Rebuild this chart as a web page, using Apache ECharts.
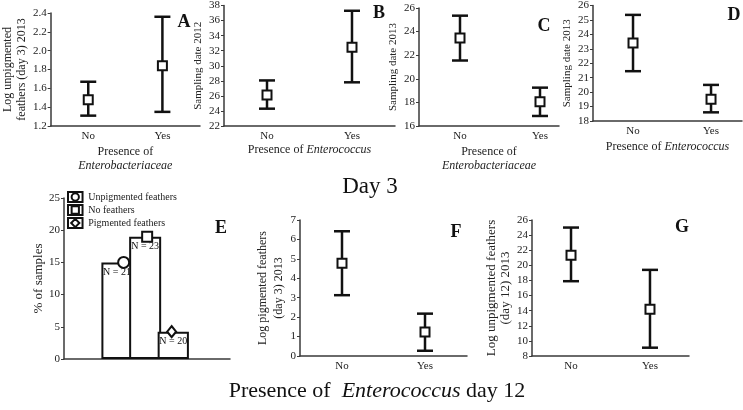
<!DOCTYPE html>
<html>
<head>
<meta charset="utf-8">
<script src="https://cdn.jsdelivr.net/npm/echarts@6/dist/echarts.min.js"></script>
<style>html,body{margin:0;padding:0;background:#fff}#c{width:743px;height:410px}</style>
</head>
<body>
<div id="c"></div>
<script>
// ---------- data ----------
const catLabels = ['No', 'Yes'];
const aMean = [1.48, 1.84], aLow = [1.31, 1.35], aHigh = [1.67, 2.36];
const bMean = [26.1, 32.45], bLow = [24.3, 27.8], bHigh = [28.05, 37.3];
const cMean = [23.45, 18.05], cLow = [21.55, 16.85], cHigh = [25.35, 19.25];
const dMean = [23.4, 19.5], dLow = [21.45, 18.6], dHigh = [25.35, 20.5];
const fMean = [4.78, 1.24], fLow = [3.13, 0.27], fHigh = [6.42, 2.18];
const gMean = [21.35, 14.2], gLow = [17.9, 9.1], gHigh = [25.0, 19.4];
const eGroups = ['Unpigmented feathers', 'No feathers', 'Pigmented feathers'];
const ePercent = [15, 19, 4.25];
const eN = [21, 23, 20];

// ---------- styling ----------
const FONT = '"Liberation Serif", "Times New Roman", serif';
const INK = '#111';
const AX = '#3a3a3a';
const grids = [], xAxes = [], yAxes = [], series = [];

function errRender(params, api) {
  const x = api.value(0);
  const lo = api.coord([x, api.value(1)]);
  const hi = api.coord([x, api.value(2)]);
  const cap = 8;
  const st = {stroke: INK, lineWidth: 2.5};
  return {type: 'group', children: [
    {type: 'line', shape: {x1: lo[0], y1: lo[1], x2: hi[0], y2: hi[1]}, style: st},
    {type: 'line', shape: {x1: lo[0] - cap, y1: lo[1], x2: lo[0] + cap, y2: lo[1]}, style: st},
    {type: 'line', shape: {x1: hi[0] - cap, y1: hi[1], x2: hi[0] + cap, y2: hi[1]}, style: st}
  ]};
}

function nameStyle(size, lh) {
  return {fontFamily: FONT, fontSize: size, color: '#222', lineHeight: lh,
    rich: {i: {fontFamily: FONT, fontSize: size, fontStyle: 'italic', color: '#222', lineHeight: lh}}};
}

function addPanel(p) {
  const gi = grids.length;
  grids.push({left: p.left, top: p.top, width: p.width, height: p.height});
  xAxes.push({
    gridIndex: gi, type: 'value', min: p.xMin, max: p.xMax,
    splitLine: {show: false},
    axisLine: {show: true, onZero: false, lineStyle: {color: AX, width: 1.5}},
    axisTick: {show: false},
    axisLabel: {customValues: [0, 1], formatter: v => catLabels[Math.round(v)],
      fontFamily: FONT, fontSize: 11, color: '#222', margin: 5},
    name: p.xName, nameLocation: 'middle', nameGap: p.xGap,
    nameTextStyle: nameStyle(12, 14)
  });
  yAxes.push({
    gridIndex: gi, type: 'value', min: p.yMin, max: p.yMax, interval: p.interval,
    splitLine: {show: false},
    axisLine: {show: true, onZero: false, lineStyle: {color: AX, width: 1.5}},
    axisTick: {show: true, length: 3, lineStyle: {color: AX}},
    axisLabel: {fontFamily: FONT, fontSize: 11, color: '#222', margin: 4,
      formatter: p.fmt || (v => String(v))},
    name: p.yName, nameLocation: 'middle', nameGap: p.yGap,
    nameTextStyle: nameStyle(p.yFont, p.yLH)
  });
  series.push({type: 'custom', xAxisIndex: gi, yAxisIndex: gi, renderItem: errRender,
    data: p.low.map((lo, i) => [i, lo, p.high[i]]), z: 2, silent: true});
  series.push({type: 'scatter', xAxisIndex: gi, yAxisIndex: gi, symbol: 'rect', symbolSize: 9,
    data: p.mean.map((m, i) => [i, m]),
    itemStyle: {color: '#fff', borderColor: INK, borderWidth: 2, opacity: 1}, z: 3});
}

const entero = 'Presence of {i|Enterococcus}';
const enteroB = 'Presence of\n{i|Enterobacteriaceae}';

addPanel({left: 49, top: 13, width: 151, height: 113, xMin: -0.507, xMax: 1.507,
  yMin: 1.2, yMax: 2.4, interval: 0.2, fmt: v => v.toFixed(1),
  yName: 'Log unpigmented\nfeathers (day 3) 2013', yGap: 18, yFont: 12, yLH: 14,
  xName: enteroB, xGap: 19, mean: aMean, low: aLow, high: aHigh});
addPanel({left: 224, top: 5, width: 171, height: 121, xMin: -0.506, xMax: 1.506,
  yMin: 22, yMax: 38, interval: 2,
  yName: 'Sampling date 2012', yGap: 17, yFont: 11, yLH: 13,
  xName: entero, xGap: 17, mean: bMean, low: bLow, high: bHigh});
addPanel({left: 419, top: 8, width: 140, height: 118, xMin: -0.5125, xMax: 1.2375,
  yMin: 16, yMax: 26, interval: 2,
  yName: 'Sampling date 2013', yGap: 17, yFont: 11, yLH: 13,
  xName: enteroB, xGap: 19, mean: cMean, low: cLow, high: cHigh});
addPanel({left: 593, top: 5, width: 149, height: 116, xMin: -0.513, xMax: 1.397,
  yMin: 18, yMax: 26, interval: 1,
  yName: 'Sampling date 2013', yGap: 18, yFont: 11, yLH: 13,
  xName: entero, xGap: 19, mean: dMean, low: dLow, high: dHigh});
addPanel({left: 300, top: 220, width: 167, height: 136, xMin: -0.506, xMax: 1.506,
  yMin: 0, yMax: 7, interval: 1,
  yName: 'Log pigmented feathers\n(day 3) 2013', yGap: 6, yFont: 12, yLH: 16,
  xName: '', xGap: 20, mean: fMean, low: fLow, high: fHigh});
addPanel({left: 532, top: 220, width: 157, height: 136, xMin: -0.494, xMax: 1.494,
  yMin: 8, yMax: 26, interval: 2,
  yName: 'Log unpigmented feathers\n(day 12) 2013', yGap: 19, yFont: 13, yLH: 14,
  xName: '', xGap: 20, mean: gMean, low: gLow, high: gHigh});

// ---------- panel E ----------
const eAxisGrid = grids.length;
grids.push({left: 64, top: 198, width: 166, height: 161});
xAxes.push({gridIndex: eAxisGrid, type: 'value', min: 0, max: 1,
  axisLine: {show: true, onZero: false, lineStyle: {color: AX, width: 1.5}},
  axisTick: {show: false}, axisLabel: {show: false}, splitLine: {show: false}});
yAxes.push({gridIndex: eAxisGrid, type: 'value', min: 0, max: 25, interval: 5,
  splitLine: {show: false},
  axisLine: {show: true, onZero: false, lineStyle: {color: AX, width: 1.5}},
  axisTick: {show: true, length: 3, lineStyle: {color: AX}},
  axisLabel: {fontFamily: FONT, fontSize: 11, color: '#222', margin: 4},
  name: '% of samples', nameLocation: 'middle', nameGap: 18,
  nameTextStyle: nameStyle(13, 14)});
const eBarGrid = grids.length;
grids.push({left: 102.4, top: 198, width: 85.5, height: 161});
xAxes.push({gridIndex: eBarGrid, type: 'category', data: eGroups, show: false});
yAxes.push({gridIndex: eBarGrid, type: 'value', min: 0, max: 25, show: false});
series.push({type: 'bar', xAxisIndex: eBarGrid, yAxisIndex: eBarGrid, barWidth: 32,
  data: ePercent,
  itemStyle: {color: '#fff', borderColor: INK, borderWidth: 2},
  label: {show: true, position: 'insideTop', distance: 5, fontFamily: FONT, fontSize: 10, color: INK,
    formatter: p => 'N = ' + eN[p.dataIndex]},
  z: 2, silent: true});
const eSymbols = ['circle', 'rect', 'diamond'];
const eSizes = [11, 10, [9, 11]];
const eOffsets = [[7, 0], [2, 0], [-2, 0]];
eGroups.forEach((g, i) => {
  series.push({type: 'scatter', name: g, xAxisIndex: eBarGrid, yAxisIndex: eBarGrid,
    symbol: eSymbols[i], symbolSize: eSizes[i], symbolOffset: eOffsets[i],
    data: [[g, ePercent[i]]],
    itemStyle: {color: '#fff', borderColor: INK, borderWidth: 2, opacity: 1}, z: 4});
});
const legendIcons = [
  'path://M0,0H16V11H0Z M12,5.5A4,4,0,1,1,4,5.5A4,4,0,1,1,12,5.5Z',
  'path://M0,0H16V11H0Z M4,1.5H12V9.5H4Z',
  'path://M0,0H16V11H0Z M8,1L12.5,5.5L8,10L3.5,5.5Z'
];

// ---------- text ----------
function letter(t, x, y) {
  return {type: 'text', x: x, y: y, style: {text: t, font: 'bold 18px ' + FONT, fill: INK,
    align: 'center', verticalAlign: 'middle', textAlign: 'center', textVerticalAlign: 'middle'}};
}
const graphics = [
  letter('A', 184, 22), letter('B', 379, 13), letter('C', 544, 26), letter('D', 734, 15),
  letter('E', 221, 228), letter('F', 456, 232), letter('G', 682, 227),
  {type: 'text', x: 370, y: 187, style: {text: 'Day 3', font: '23px ' + FONT, fill: INK,
    align: 'center', verticalAlign: 'middle', textAlign: 'center', textVerticalAlign: 'middle'}},
  {type: 'text', x: 377, y: 391, style: {
    text: '{n|Presence of  }{i|Enterococcus}{n| day 12}',
    rich: {n: {fontFamily: FONT, fontSize: 22, fill: INK, color: INK},
           i: {fontFamily: FONT, fontSize: 22, fontStyle: 'italic', fill: INK, color: INK}},
    align: 'center', verticalAlign: 'middle', textAlign: 'center', textVerticalAlign: 'middle'}}
];

const chart = echarts.init(document.getElementById('c'), null, {renderer: 'canvas'});
chart.setOption({
  backgroundColor: '#fff',
  animation: false,
  grid: grids, xAxis: xAxes, yAxis: yAxes, series: series,
  legend: {
    orient: 'vertical', left: 62, top: 186, itemWidth: 16, itemHeight: 10, itemGap: 1,
    selectedMode: false,
    textStyle: {fontFamily: FONT, fontSize: 10, color: '#222', lineHeight: 11},
    data: eGroups.map((g, i) => ({name: g, icon: legendIcons[i]}))
  },
  graphic: graphics
});
</script>
</body>
</html>
